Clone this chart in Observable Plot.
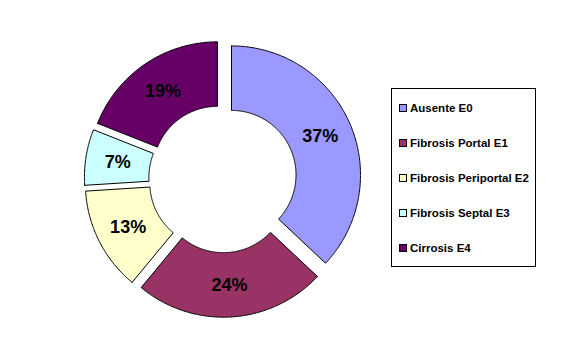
<!DOCTYPE html>
<html>
<head>
<meta charset="utf-8">
<script src="https://cdn.jsdelivr.net/npm/d3@7"></script>
<script src="https://cdn.jsdelivr.net/npm/@observablehq/plot@0.6"></script>
<style>
  html, body { margin: 0; padding: 0; background: #fff; }
  #wrap { position: relative; width: 565px; height: 354px; overflow: hidden; }
  #legend { position: absolute; left: 391px; top: 88px; width: 143px; height: 177px; border: 1px solid #000; background: #fff;
            font-family: "Liberation Sans", Arial, sans-serif; font-weight: bold; font-size: 11.5px; color: #000; }
  .row { position: absolute; left: 7px; height: 12px; display: flex; align-items: center; white-space: nowrap; }
  .sw { width: 6px; height: 6px; border: 1px solid #000; margin-right: 3px; }
</style>
</head>
<body>
<div id="wrap"></div>
<script>
// Data
const categories = ["Ausente E0", "Fibrosis Portal E1", "Fibrosis Periportal E2", "Fibrosis Septal E3", "Cirrosis E4"];
const values = [37, 24, 13, 7, 19];
const labels = ["37%", "24%", "13%", "7%", "19%"];
const colors = ["#9999FF", "#993366", "#FFFFCC", "#CCFFFF", "#660066"];

// Layout (unit radius space)
const W = 565, H = 354;
const cx = 222.3, cy = 178.2, R = 129;   // pixel centre & outer radius
const inner = 0.5, explode = 0.0736;

const pie = d3.pie().sort(null).value(d => d.value).startAngle(0).endAngle(2 * Math.PI);
const arcs = pie(categories.map((c, i) => ({ cat: c, value: values[i], label: labels[i] })));

const pts = [];
const labs = [];
arcs.forEach(a => {
  const mid = (a.startAngle + a.endAngle) / 2;
  const ox = Math.sin(mid) * explode, oy = Math.cos(mid) * explode;
  const n = Math.max(8, Math.ceil((a.endAngle - a.startAngle) / 0.01));
  const poly = [];
  for (let k = 0; k <= n; k++) {
    const t = a.startAngle + (a.endAngle - a.startAngle) * k / n;
    poly.push([Math.sin(t), Math.cos(t)]);
  }
  for (let k = n; k >= 0; k--) {
    const t = a.startAngle + (a.endAngle - a.startAngle) * k / n;
    poly.push([Math.sin(t) * inner, Math.cos(t) * inner]);
  }
  poly.push(poly[0]);
  poly.forEach(([x, y]) => pts.push({ cat: a.data.cat, x: x + ox, y: y + oy }));
  const lr = (1 + inner) / 2 + explode;
  labs.push({ x: Math.sin(mid) * lr, y: Math.cos(mid) * lr, label: a.data.label });
});

const chart = Plot.plot({
  width: W, height: H,
  margin: 0,
  style: { background: "#fff" },
  x: { domain: [-cx / R, (W - cx) / R], axis: null },
  y: { domain: [-(H - cy) / R, cy / R], axis: null },
  color: { domain: categories, range: colors },
  marks: [
    Plot.line(pts, { x: "x", y: "y", z: "cat", fill: "cat", stroke: "#000", strokeWidth: 1, curve: "linear" }),
    Plot.text(labs, { x: "x", y: "y", text: "label", fontSize: 18, fontWeight: "bold", fill: "#000",
                      fontFamily: "Liberation Sans, Arial, sans-serif" })
  ]
});

const wrap = document.getElementById("wrap");
wrap.appendChild(chart);

const legend = document.createElement("div");
legend.id = "legend";
categories.forEach((c, i) => {
  const row = document.createElement("div");
  row.className = "row";
  row.style.top = (13 + i * 35) + "px";
  const sw = document.createElement("span");
  sw.className = "sw";
  sw.style.background = colors[i];
  const tx = document.createElement("span");
  tx.textContent = c;
  row.appendChild(sw); row.appendChild(tx);
  legend.appendChild(row);
});
wrap.appendChild(legend);
</script>
</body>
</html>
